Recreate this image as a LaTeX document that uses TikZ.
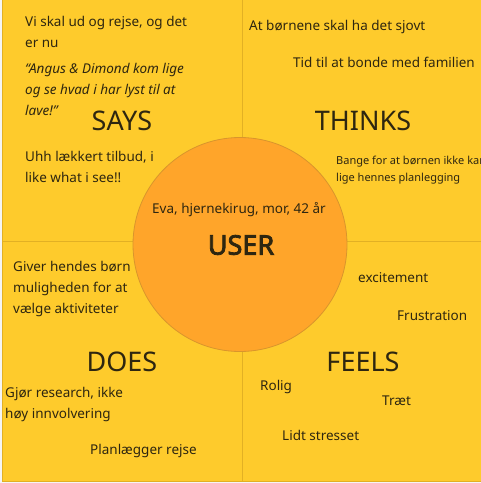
\documentclass[tikz,border=0pt]{standalone}
\usepackage{fontspec}
\setmainfont{Noto Sans}
\newfontfamily\userfont{Noto Sans}[FakeBold=3]
\usepackage{tikz}
\usepackage{xcolor}

\definecolor{quadfill}{HTML}{FECB2C}
\definecolor{quadline}{HTML}{E2B024}
\definecolor{userfill}{HTML}{FFA52A}
\definecolor{userline}{HTML}{D9952C}
\definecolor{ink}{HTML}{2E2610}

\begin{document}
\begin{tikzpicture}[
    x=1pt, y=-1pt,
    quad/.style={draw=quadline, fill=quadfill, line width=1pt},
    user/.style={circle, draw=userline, fill=userfill, line width=0.8pt, minimum size=214pt, inner sep=0pt},
    title/.style={font=\fontsize{27}{30}\selectfont, text=ink, inner sep=0pt},
    note/.style={anchor=west, align=left, inner sep=0pt, text=ink, font=\fontsize{13.5}{21}\selectfont},
    small/.style={note, font=\fontsize{11}{17}\selectfont}
]
\useasboundingbox (0,0) rectangle (481,483);
\fill[gray!8] (0,0) rectangle (481,483);
\clip (0,0) rectangle (481,483);

% Quadrants
\draw[quad] (2,-1) rectangle (242,241);
\draw[quad] (242,-1) rectangle (490,241);
\draw[quad] (2,241) rectangle (242,481);
\draw[quad] (242,241) rectangle (490,481);

% Says
\node[note] (says1) at (25,31.5) {Vi skal ud og rejse, og det\\er nu};
\node[note, font=\fontsize{13.5}{21}\selectfont\itshape] (says2) at (25,89) {“Angus \& Dimond kom lige\\og se hvad i har lyst til at\\lave!”};
\node[title] (says) at (122,121) {SAYS};
\node[note] (says3) at (25,166.5) {Uhh lækkert tilbud, i\\like what i see!!};

% Thinks
\node[note] (thinks1) at (249,27) {At børnene skal ha det sjovt};
\node[note] (thinks2) at (293,62) {Tid til at bonde med familien};
\node[title] (thinks) at (363,121) {THINKS};
\node[small] (thinks3) at (336,170) {Bange for at børnen ikke kan\\lige hennes planlegging};

% Does
\node[note] (does1) at (13,288.5) {Giver hendes børn\\muligheden for at\\vælge aktiviteter};
\node[title] (does) at (122,362) {DOES};
\node[note] (does2) at (5,404) {Gjør research, ikke\\høy innvolvering};
\node[note] (does3) at (90,451) {Planlægger rejse};

% Feels
\node[note] (feels1) at (358,278) {excitement};
\node[note] (feels2) at (397,316) {Frustration};
\node[title] (feels) at (363,362) {FEELS};
\node[note] (feels3) at (260,387) {Rolig};
\node[note] (feels4) at (382,401) {Træt};
\node[note] (feels5) at (282,435) {Lidt stresset};

% User
\node[user] (center) at (240,244.5) {};
\node[note, anchor=center] (persona) at (239,210) {Eva, hjernekirug, mor, 42 år};
\node[title, font=\fontsize{27}{30}\userfont] (usr) at (241,245) {USER};

\end{tikzpicture}
\end{document}
